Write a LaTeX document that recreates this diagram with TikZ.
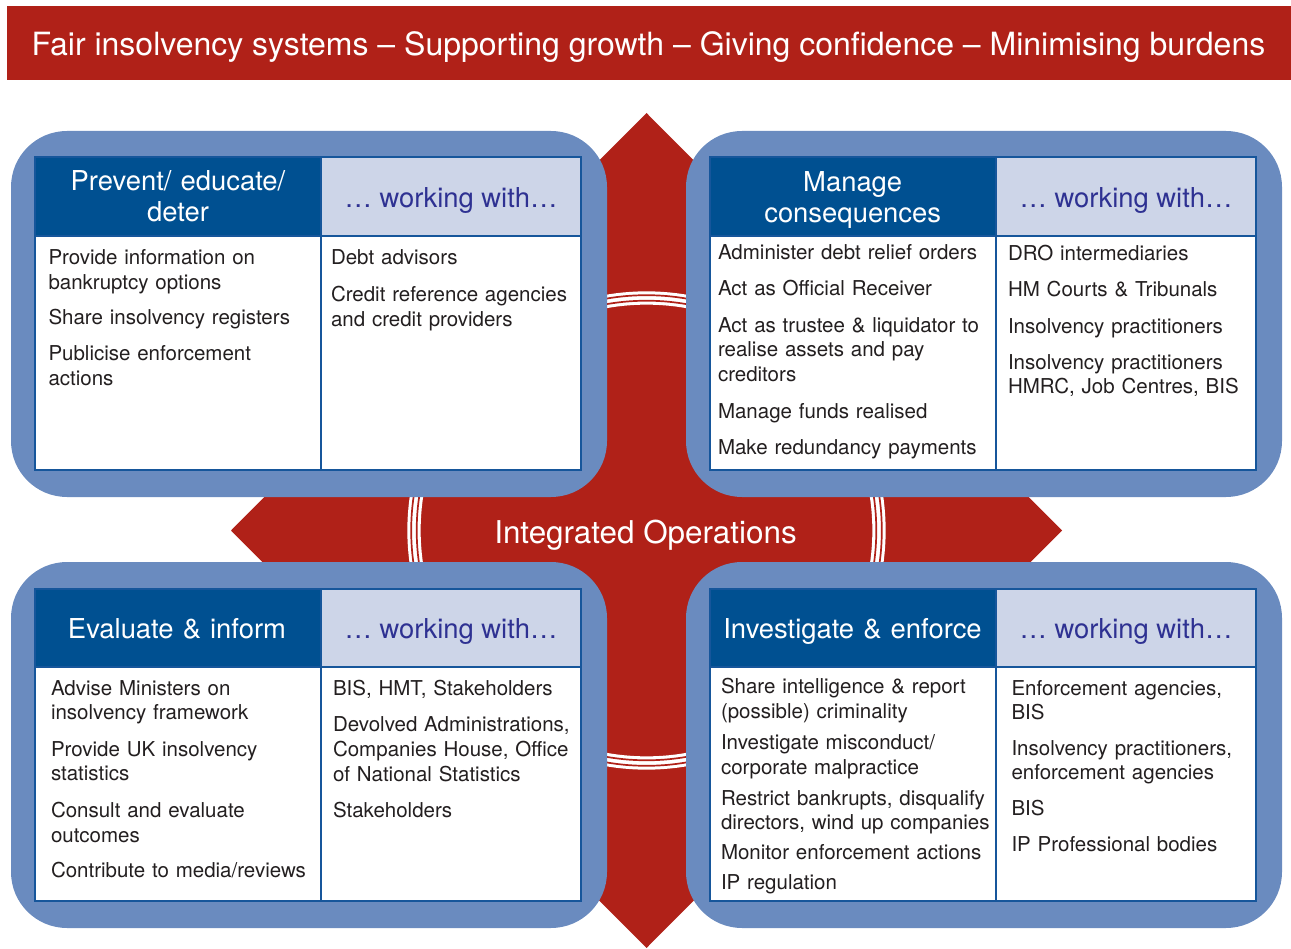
\documentclass[tikz,border=0pt]{standalone}
\usepackage{fontspec}
\setmainfont{TeX Gyre Heros}
\definecolor{banred}{RGB}{176,33,24}
\definecolor{frameblue}{RGB}{106,139,191}
\definecolor{headblue}{RGB}{0,80,145}
\definecolor{paleblue}{RGB}{205,213,232}
\definecolor{rulecol}{RGB}{22,86,155}
\definecolor{withcol}{RGB}{46,49,146}
\definecolor{bodytext}{RGB}{35,31,32}
\newcommand\bodysize{\fontsize{20.5}{24.7}\selectfont}
\newcommand\headsize{\fontsize{27.4}{30.5}\selectfont}
\begin{document}
\begin{tikzpicture}[x=1pt,y=-1pt,
  frame/.style={fill=frameblue, rounded corners=56pt, anchor=north west,
    inner sep=0pt, outer sep=0pt, minimum width=596pt, minimum height=366pt},
  cell/.style={draw=rulecol, line width=1.8pt, anchor=north west,
    inner sep=0pt, outer sep=0pt},
  item/.style={anchor=base west, inner sep=0pt, outer sep=0pt, text width=285pt,
    align=left, font=\bodysize, text=bodytext},
  headtxt/.style={anchor=base, inner sep=0pt, outer sep=0pt, text width=280pt,
    align=center, font=\headsize, text=white},
  withtxt/.style={anchor=base, inner sep=0pt, outer sep=0pt, font=\headsize, text=withcol}]
\useasboundingbox (0,0) rectangle (1291,949);

% title banner
\node[fill=banred, anchor=north west, inner sep=0pt, minimum width=1284pt, minimum height=74pt] (banner) at (7,6) {};
\node[anchor=base, inner sep=0pt, font=\fontsize{32}{32}\selectfont, text=white] (motto) at (648.5,56)
  {Fair insolvency systems – Supporting growth – Giving confidence – Minimising burdens};

% central red diamond with the ring
\coordinate (hub) at (646.5,530.5);
\fill[banred] (646.5,113) -- (1062,530.5) -- (646.5,948) -- (231,530.5) -- cycle;
\draw[white, line width=13.3pt] (hub) circle[radius=232.5pt];
\draw[banred, line width=1.7pt] (hub) circle[radius=235.3pt];
\draw[banred, line width=1.7pt] (hub) circle[radius=229.8pt];

% four blue frames
\node[frame] (tlframe) at (11,131) {};
\node[frame] (trframe) at (686,131) {};
\node[frame] (blframe) at (11,562) {};
\node[frame] (brframe) at (686,562) {};

% table cells: top left
\node[cell, fill=white, minimum width=546pt, minimum height=313pt] (tlbody) at (35,157) {};
\node[cell, fill=headblue, minimum width=286pt, minimum height=79pt] (tlhead) at (35,157) {};
\node[cell, fill=paleblue, minimum width=260pt, minimum height=79pt] (tlwith) at (321,157) {};
\draw[rulecol, line width=1.8pt] (tlwith.north west) -- (tlwith.north west |- tlbody.south);
% top right
\node[cell, fill=white, minimum width=546pt, minimum height=313pt] (trbody) at (710,157) {};
\node[cell, fill=headblue, minimum width=286pt, minimum height=79pt] (trhead) at (710,157) {};
\node[cell, fill=paleblue, minimum width=260pt, minimum height=79pt] (trwith) at (996,157) {};
\draw[rulecol, line width=1.8pt] (trwith.north west) -- (trwith.north west |- trbody.south);
% bottom left
\node[cell, fill=white, minimum width=546pt, minimum height=312pt] (blbody) at (35,589) {};
\node[cell, fill=headblue, minimum width=286pt, minimum height=78pt] (blhead) at (35,589) {};
\node[cell, fill=paleblue, minimum width=260pt, minimum height=78pt] (blwith) at (321,589) {};
\draw[rulecol, line width=1.8pt] (blwith.north west) -- (blwith.north west |- blbody.south);
% bottom right
\node[cell, fill=white, minimum width=546pt, minimum height=312pt] (brbody) at (710,589) {};
\node[cell, fill=headblue, minimum width=286pt, minimum height=78pt] (brhead) at (710,589) {};
\node[cell, fill=paleblue, minimum width=260pt, minimum height=78pt] (brwith) at (996,589) {};
\draw[rulecol, line width=1.8pt] (brwith.north west) -- (brwith.north west |- brbody.south);

% centre label
\node[anchor=base, inner sep=0pt, font=\fontsize{31.4}{31.4}\selectfont, text=white] (integ) at (645.5,543.5) {Integrated Operations};

% headings
\node[headtxt] (tlh) at (178,191) {Prevent/ educate/\\deter};
\node[withtxt] (tlw) at (451,207.3) {… working with…};
\node[headtxt] (trh) at (852.7,191.7) {Manage\\consequences};
\node[withtxt] (trw) at (1126,207.3) {… working with…};
\node[headtxt] (blh) at (177,638.3) {Evaluate \& inform};
\node[withtxt] (blw) at (451,638.3) {… working with…};
\node[headtxt] (brh) at (852.5,638.3) {Investigate \& enforce};
\node[withtxt] (brw) at (1126,638.3) {… working with…};

% top left lists
\node[item] (tl1) at (48.5,265) {Provide information on\\bankruptcy options};
\node[item] (tl2) at (48.5,325) {Share insolvency registers};
\node[item] (tl3) at (48.5,360.7) {Publicise enforcement\\actions};
\node[item] (tl4) at (331,265) {Debt advisors};
\node[item] (tl5) at (331,301.7) {Credit reference agencies\\and credit providers};

% top right lists
\node[item] (tr1) at (718,260) {Administer debt relief orders};
\node[item] (tr2) at (718,296) {Act as Official Receiver};
\node[item] (tr3) at (718,332.3) {Act as trustee \& liquidator to\\realise assets and pay\\creditors};
\node[item] (tr4) at (718,418.3) {Manage funds realised};
\node[item] (tr5) at (718,454) {Make redundancy payments};
\node[item] (tr6) at (1008,261) {DRO intermediaries};
\node[item] (tr7) at (1008,296.7) {HM Courts \& Tribunals};
\node[item] (tr8) at (1008,333.3) {Insolvency practitioners};
\node[item] (tr9) at (1008,369.3) {Insolvency practitioners\\HMRC, Job Centres, BIS};

% bottom left lists
\node[item] (bl1) at (51,695) {Advise Ministers on\\insolvency framework};
\node[item] (bl2) at (51,756) {Provide UK insolvency\\statistics};
\node[item] (bl3) at (51,817.3) {Consult and evaluate\\outcomes};
\node[item] (bl4) at (51,877.7) {Contribute to media/reviews};
\node[item] (bl5) at (333,695) {BIS, HMT, Stakeholders};
\node[item] (bl6) at (333,731.7) {Devolved Administrations,\\Companies House, Office\\of National Statistics};
\node[item] (bl7) at (333,817.3) {Stakeholders};

% bottom right lists
\node[item] (br1) at (721,693.3) {Share intelligence \& report\\(possible) criminality};
\node[item] (br2) at (721,749.3) {Investigate misconduct/\\corporate malpractice};
\node[item] (br3) at (721,805) {Restrict bankrupts, disqualify\\directors, wind up companies};
\node[item] (br4) at (721,859) {Monitor enforcement actions};
\node[item] (br5) at (721,889.3) {IP regulation};
\node[item] (br6) at (1011.5,695) {Enforcement agencies,\\BIS};
\node[item] (br7) at (1011.5,755) {Insolvency practitioners,\\enforcement agencies};
\node[item] (br8) at (1011.5,815.7) {BIS};
\node[item] (br9) at (1011.5,851.7) {IP Professional bodies};
\end{tikzpicture}
\end{document}
